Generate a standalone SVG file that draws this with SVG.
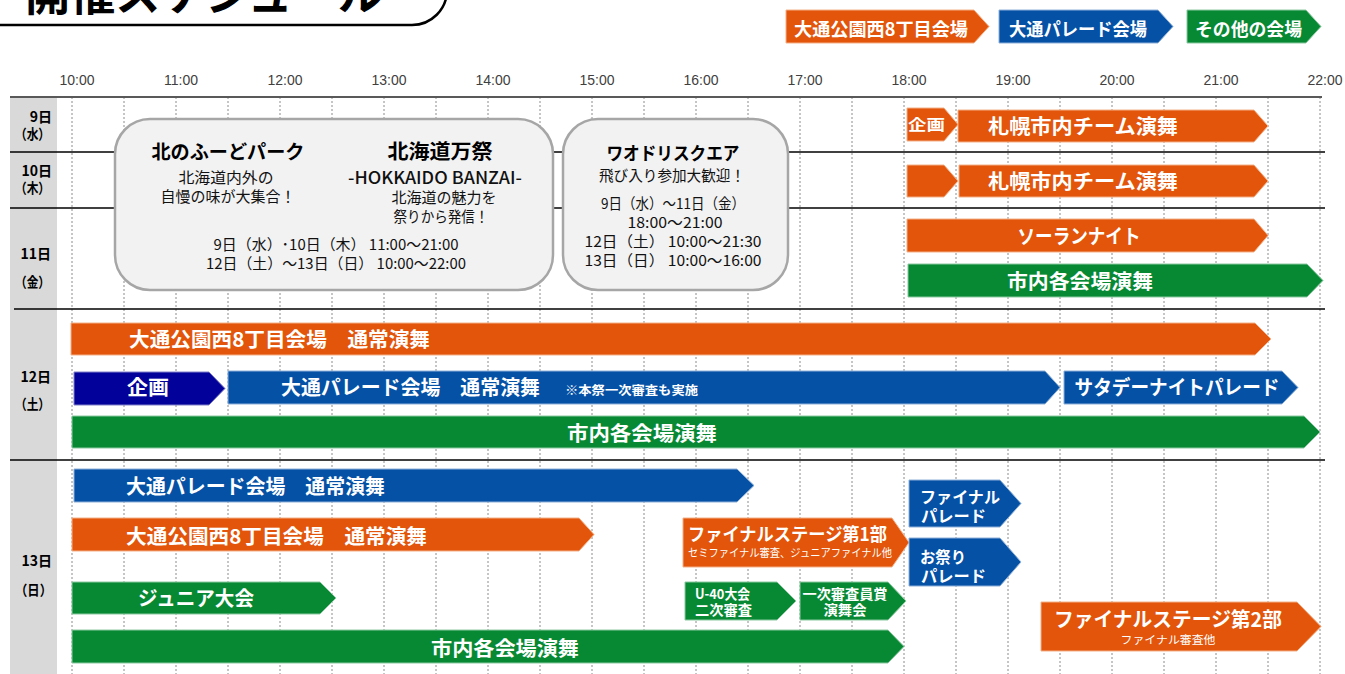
<svg xmlns="http://www.w3.org/2000/svg" width="1345" height="674" viewBox="0 0 1345 674">
<style>
.jp{font-family:"Noto Sans CJK JP","Noto Sans CJK SC",sans-serif}
.w{fill:#fff;font-weight:bold;font-family:"Noto Sans CJK JP",sans-serif}
.k{fill:#111;font-family:"Noto Sans CJK JP",sans-serif}
.kb{fill:#000;font-weight:bold;font-family:"Noto Sans CJK JP",sans-serif}
.tm{fill:#404040;font-family:"Liberation Sans",Arial,sans-serif;font-size:14px;text-anchor:middle}
.or{fill:#E2550A;stroke:#f3b088;stroke-width:1}
.bl{fill:#0451A6;stroke:#8fb0d8;stroke-width:1}
.gr{fill:#078934;stroke:#8cc9a0;stroke-width:1}
.nv{fill:#02029A;stroke:#8080c8;stroke-width:1}
.box{fill:#f2f2f2;stroke:#a6a6a6;stroke-width:2.5}
.grid{stroke:#8c8c8c;stroke-width:1;stroke-dasharray:2 2}
.hl{stroke:#000;stroke-width:1.5}
</style>
<rect width="1345" height="674" fill="#fff"/>

<g id="title">
<path d="M-5,25 H412 A35,35 0 0 0 447,-10" fill="#fff" stroke="#000" stroke-width="2.5"/>
<text x="25" y="10" class="kb" font-size="46" textLength="358" lengthAdjust="spacingAndGlyphs">開催スケジュール</text>
</g>

<g id="legend">
<polygon class="or" points="786,10 974,10 989,26.5 974,43 786,43"/>
<text x="794" y="35.5" class="w" font-size="18" textLength="174" lengthAdjust="spacingAndGlyphs">大通公園西8丁目会場</text>
<polygon class="bl" points="999,10 1158,10 1173,26.5 1158,43 999,43"/>
<text x="1009" y="35.5" class="w" font-size="18" textLength="138" lengthAdjust="spacingAndGlyphs">大通パレード会場</text>
<polygon class="gr" points="1187,10 1306,10 1321,26.5 1306,43 1187,43"/>
<text x="1195" y="35.5" class="w" font-size="18" textLength="107" lengthAdjust="spacingAndGlyphs">その他の会場</text>
</g>

<g id="axis">
<rect x="10" y="98" width="47" height="576" fill="#d9d9d9"/>
<g class="grid">
<line x1="72" y1="97" x2="72" y2="674"/><line x1="124" y1="97" x2="124" y2="674"/>
<line x1="176" y1="97" x2="176" y2="674"/><line x1="228" y1="97" x2="228" y2="674"/>
<line x1="280" y1="97" x2="280" y2="674"/><line x1="332" y1="97" x2="332" y2="674"/>
<line x1="384" y1="97" x2="384" y2="674"/><line x1="436" y1="97" x2="436" y2="674"/>
<line x1="488" y1="97" x2="488" y2="674"/><line x1="540" y1="97" x2="540" y2="674"/>
<line x1="592" y1="97" x2="592" y2="674"/><line x1="644" y1="97" x2="644" y2="674"/>
<line x1="696" y1="97" x2="696" y2="674"/><line x1="748" y1="97" x2="748" y2="674"/>
<line x1="800" y1="97" x2="800" y2="674"/><line x1="852" y1="97" x2="852" y2="674"/>
<line x1="904" y1="97" x2="904" y2="674"/><line x1="956" y1="97" x2="956" y2="674"/>
<line x1="1008" y1="97" x2="1008" y2="674"/><line x1="1060" y1="97" x2="1060" y2="674"/>
<line x1="1112" y1="97" x2="1112" y2="674"/><line x1="1164" y1="97" x2="1164" y2="674"/>
<line x1="1216" y1="97" x2="1216" y2="674"/><line x1="1268" y1="97" x2="1268" y2="674"/>
<line x1="1320" y1="97" x2="1320" y2="674"/>
</g>
<line x1="10" y1="97" x2="1322" y2="97" stroke="#595959" stroke-width="2"/>
<line class="hl" x1="10" y1="152" x2="1325" y2="152"/>
<line class="hl" x1="10" y1="208" x2="1325" y2="208"/>
<line class="hl" x1="14" y1="309" x2="1325" y2="309"/>
<line class="hl" x1="10" y1="460" x2="1325" y2="460"/>
<text class="tm" x="77" y="85">10:00</text><text class="tm" x="181" y="85">11:00</text>
<text class="tm" x="285" y="85">12:00</text><text class="tm" x="389" y="85">13:00</text>
<text class="tm" x="493" y="85">14:00</text><text class="tm" x="597" y="85">15:00</text>
<text class="tm" x="701" y="85">16:00</text><text class="tm" x="805" y="85">17:00</text>
<text class="tm" x="909" y="85">18:00</text><text class="tm" x="1013" y="85">19:00</text>
<text class="tm" x="1117" y="85">20:00</text><text class="tm" x="1221" y="85">21:00</text>
<text class="tm" x="1325" y="85">22:00</text>
</g>

<g id="days" class="kb" font-size="14">
<text x="52" y="122" text-anchor="end">9日</text>
<text x="15" y="139" textLength="35" lengthAdjust="spacingAndGlyphs">（水）</text>
<text x="52" y="176" text-anchor="end">10日</text>
<text x="15" y="193" textLength="35" lengthAdjust="spacingAndGlyphs">（木）</text>
<text x="51" y="259" text-anchor="end">11日</text>
<text x="15" y="287" textLength="35" lengthAdjust="spacingAndGlyphs">（金）</text>
<text x="51" y="382" text-anchor="end">12日</text>
<text x="15" y="409" textLength="35" lengthAdjust="spacingAndGlyphs">（土）</text>
<text x="52" y="566" text-anchor="end">13日</text>
<text x="15" y="595" textLength="37" lengthAdjust="spacingAndGlyphs">（日）</text>
</g>

<g id="box-food">
<rect class="box" x="115" y="119" width="438" height="171" rx="35"/>
<text class="kb" x="228" y="159" font-size="19" text-anchor="middle" textLength="153" lengthAdjust="spacingAndGlyphs">北のふーどパーク</text>
<text class="k" x="226" y="183" font-size="15" text-anchor="middle" textLength="95" lengthAdjust="spacingAndGlyphs">北海道内外の</text>
<text class="k" x="228" y="202" font-size="15" text-anchor="middle" textLength="135" lengthAdjust="spacingAndGlyphs">自慢の味が大集合！</text>
<text class="kb" x="440" y="159" font-size="20" text-anchor="middle" textLength="105" lengthAdjust="spacingAndGlyphs">北海道万祭</text>
<text class="k" x="435" y="184" font-size="17" font-weight="500" text-anchor="middle" textLength="174" lengthAdjust="spacingAndGlyphs">-HOKKAIDO BANZAI-</text>
<text class="k" x="444" y="203" font-size="15" text-anchor="middle" textLength="105" lengthAdjust="spacingAndGlyphs">北海道の魅力を</text>
<text class="k" x="441" y="222" font-size="15" text-anchor="middle" textLength="95" lengthAdjust="spacingAndGlyphs">祭りから発信！</text>
<text class="k" x="336" y="250" font-size="15" text-anchor="middle" textLength="245" lengthAdjust="spacingAndGlyphs">9日（水）･10日（木） 11:00～21:00</text>
<text class="k" x="336" y="269" font-size="15" text-anchor="middle" textLength="260" lengthAdjust="spacingAndGlyphs">12日（土）～13日（日） 10:00～22:00</text>
</g>

<g id="box-waodori">
<rect class="box" x="563" y="119" width="225" height="171" rx="35"/>
<text class="kb" x="673" y="160" font-size="18" text-anchor="middle" textLength="133" lengthAdjust="spacingAndGlyphs">ワオドリスクエア</text>
<text class="k" x="672" y="181" font-size="15" text-anchor="middle" textLength="146" lengthAdjust="spacingAndGlyphs">飛び入り参加大歓迎！</text>
<text class="k" x="673" y="209" font-size="15" text-anchor="middle" textLength="144" lengthAdjust="spacingAndGlyphs">9日（水）～11日（金）</text>
<text class="k" x="675" y="228" font-size="15" text-anchor="middle" textLength="95" lengthAdjust="spacingAndGlyphs">18:00～21:00</text>
<text class="k" x="673" y="247" font-size="15" text-anchor="middle" textLength="177" lengthAdjust="spacingAndGlyphs">12日（土） 10:00～21:30</text>
<text class="k" x="673" y="266" font-size="15" text-anchor="middle" textLength="177" lengthAdjust="spacingAndGlyphs">13日（日） 10:00～16:00</text>
</g>

<g id="d9-kikaku">
<polygon class="or" points="907,108 944,108 958,124.5 944,141 907,141"/>
<text class="w" x="908" y="130" font-size="15" textLength="37" lengthAdjust="spacingAndGlyphs">企画</text>
</g>
<g id="d9-sapporo">
<polygon class="or" points="958,110 1254,110 1268,126 1254,142 958,142"/>
<text class="w" x="1083" y="134" font-size="20" text-anchor="middle" textLength="190" lengthAdjust="spacingAndGlyphs">札幌市内チーム演舞</text>
</g>
<g id="d10-lead">
<polygon class="or" points="907,165 944,165 958,181 944,197 907,197"/>
</g>
<g id="d10-sapporo">
<polygon class="or" points="959,165 1254,165 1268,181 1254,197 959,197"/>
<text class="w" x="1083" y="189" font-size="20" text-anchor="middle" textLength="190" lengthAdjust="spacingAndGlyphs">札幌市内チーム演舞</text>
</g>
<g id="d11-soran">
<polygon class="or" points="907,219 1254,219 1268,235.5 1254,252 907,252"/>
<text class="w" x="1079" y="244" font-size="20" text-anchor="middle" textLength="123" lengthAdjust="spacingAndGlyphs">ソーランナイト</text>
</g>
<g id="d11-shinai">
<polygon class="gr" points="908,264 1307,264 1323,280.5 1307,297 908,297"/>
<text class="w" x="1080" y="289" font-size="20" text-anchor="middle" textLength="146" lengthAdjust="spacingAndGlyphs">市内各会場演舞</text>
</g>

<g id="d12-odori8">
<polygon class="or" points="71,323 1255,323 1271,339 1255,355 71,355"/>
<text class="w" x="129" y="347" font-size="20" textLength="301" lengthAdjust="spacingAndGlyphs">大通公園西8丁目会場　通常演舞</text>
</g>
<g id="d12-kikaku">
<polygon class="nv" points="74,372 209,372 225,388.5 209,405 74,405"/>
<text class="w" x="127" y="395" font-size="20" textLength="42" lengthAdjust="spacingAndGlyphs">企画</text>
</g>
<g id="d12-parade">
<polygon class="bl" points="228,371 1045,371 1060,387.5 1045,404 228,404"/>
<text class="w" x="281" y="395" font-size="20" textLength="259" lengthAdjust="spacingAndGlyphs">大通パレード会場　通常演舞</text>
<text class="w" x="565" y="395" font-size="12" textLength="133" lengthAdjust="spacingAndGlyphs">※本祭一次審査も実施</text>
</g>
<g id="d12-saturday">
<polygon class="bl" points="1064,371 1282,371 1298,387.5 1282,404 1064,404"/>
<text class="w" x="1177" y="395" font-size="20" text-anchor="middle" textLength="205" lengthAdjust="spacingAndGlyphs">サタデーナイトパレード</text>
</g>
<g id="d12-shinai">
<polygon class="gr" points="72,416 1304,416 1320,432 1304,448 72,448"/>
<text class="w" x="642" y="441" font-size="20" text-anchor="middle" textLength="150" lengthAdjust="spacingAndGlyphs">市内各会場演舞</text>
</g>

<g id="d13-parade">
<polygon class="bl" points="74,469 737,469 754,485.5 737,502 74,502"/>
<text class="w" x="126" y="494" font-size="20" textLength="259" lengthAdjust="spacingAndGlyphs">大通パレード会場　通常演舞</text>
</g>
<g id="d13-odori8">
<polygon class="or" points="72,518 579,518 594,534.5 579,551 72,551"/>
<text class="w" x="126" y="544" font-size="20" textLength="301" lengthAdjust="spacingAndGlyphs">大通公園西8丁目会場　通常演舞</text>
</g>
<g id="d13-junior">
<polygon class="gr" points="72,582 320,582 336,598 320,614 72,614"/>
<text class="w" x="196" y="606" font-size="20" text-anchor="middle" textLength="116" lengthAdjust="spacingAndGlyphs">ジュニア大会</text>
</g>
<g id="d13-shinai">
<polygon class="gr" points="72,630 888,630 904,646.5 888,663 72,663"/>
<text class="w" x="505" y="656" font-size="20" text-anchor="middle" textLength="148" lengthAdjust="spacingAndGlyphs">市内各会場演舞</text>
</g>
<g id="d13-final1">
<polygon class="or" points="683,518 892,518 909,542.5 892,567 683,567"/>
<text class="w" x="688" y="541" font-size="18" textLength="199" lengthAdjust="spacingAndGlyphs">ファイナルステージ第1部</text>
<text x="688" y="557" font-size="11" fill="#fff" class="jp" textLength="204" lengthAdjust="spacingAndGlyphs">セミファイナル審査、ジュニアファイナル他</text>
</g>
<g id="d13-u40">
<polygon class="gr" points="685,582 777,582 796,601 777,620 685,620"/>
<text class="w" x="695" y="599" font-size="14" textLength="55" lengthAdjust="spacingAndGlyphs">U-40大会</text>
<text class="w" x="695" y="615" font-size="14" textLength="57" lengthAdjust="spacingAndGlyphs">二次審査</text>
</g>
<g id="d13-ichiji">
<polygon class="gr" points="800,582 888,582 906,601 888,620 800,620"/>
<text class="w" x="845" y="599" font-size="14" text-anchor="middle" textLength="85" lengthAdjust="spacingAndGlyphs">一次審査員賞</text>
<text class="w" x="845" y="615" font-size="14" text-anchor="middle" textLength="43" lengthAdjust="spacingAndGlyphs">演舞会</text>
</g>
<g id="d13-finalparade">
<polygon class="bl" points="909,480 1000,480 1021,503.5 1000,527 909,527"/>
<text class="w" x="920" y="503" font-size="16" textLength="80" lengthAdjust="spacingAndGlyphs">ファイナル</text>
<text class="w" x="921" y="522" font-size="16" textLength="65" lengthAdjust="spacingAndGlyphs">パレード</text>
</g>
<g id="d13-omatsuri">
<polygon class="bl" points="909,538 1000,538 1021,562 1000,586 909,586"/>
<text class="w" x="920" y="563" font-size="16" textLength="46" lengthAdjust="spacingAndGlyphs">お祭り</text>
<text class="w" x="921" y="582" font-size="16" textLength="65" lengthAdjust="spacingAndGlyphs">パレード</text>
</g>
<g id="d13-final2">
<polygon class="or" points="1041,602 1297,602 1321,626.5 1297,651 1041,651"/>
<text class="w" x="1168" y="627" font-size="20" text-anchor="middle" textLength="228" lengthAdjust="spacingAndGlyphs">ファイナルステージ第2部</text>
<text x="1168" y="644" font-size="11" fill="#fff" class="jp" text-anchor="middle" textLength="95" lengthAdjust="spacingAndGlyphs">ファイナル審査他</text>
</g>
<g id="connectors"></g>
</svg>
